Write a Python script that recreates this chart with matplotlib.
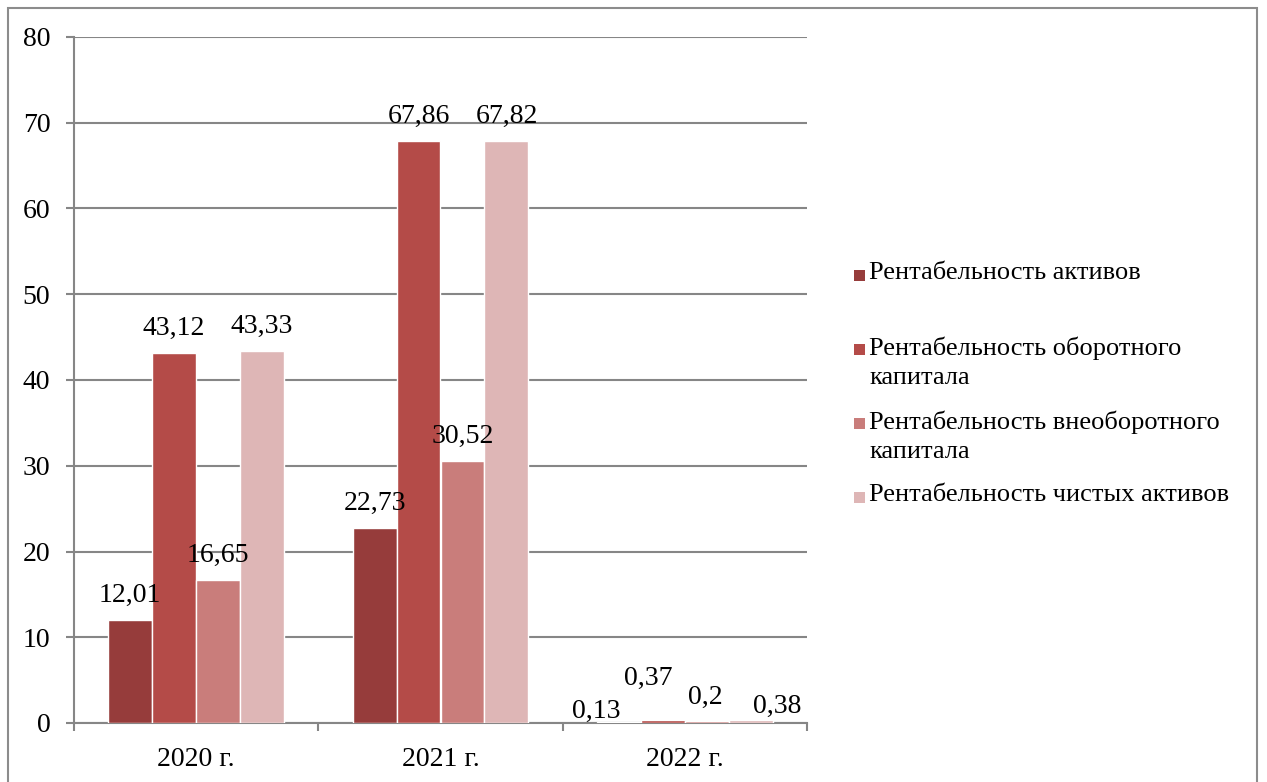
import matplotlib.pyplot as plt
import numpy as np
from matplotlib.patches import Rectangle

years = ["2020 г.", "2021 г.", "2022 г."]
series_names = [
    "Рентабельность активов",
    "Рентабельность оборотного\nкапитала",
    "Рентабельность внеоборотного\nкапитала",
    "Рентабельность чистых активов",
]
assets = [12.01, 22.73, 0.13]
working_capital = [43.12, 67.86, 0.37]
fixed_capital = [16.65, 30.52, 0.2]
net_assets = [43.33, 67.82, 0.38]
values = [assets, working_capital, fixed_capital, net_assets]

colors = ["#963C3B", "#B44B48", "#C97D7B", "#DEB6B6"]

# label nudges (pixels) for the crowded 2022 group, like in the source
nudge_2022 = [(-23, 10), (-15, 41), (-2, 24), (26, 13)]

plt.rcParams["font.family"] = ["Liberation Serif", "DejaVu Serif"]
plt.rcParams["font.size"] = 20

fig = plt.figure(figsize=(12.67, 7.82), dpi=100)
ax = fig.add_axes([74 / 1267, 1 - 723 / 782, 733 / 1267, 686 / 782])

x = np.arange(len(years))
w = 0.18
for i, (vals, c) in enumerate(zip(values, colors)):
    pos = x + (i - 1.5) * w
    ax.bar(pos, vals, w, color=c, edgecolor="white", linewidth=1.0, zorder=3)
    for j, (px, v) in enumerate(zip(pos, vals)):
        dx, dy = (0, 25) if j < 2 else nudge_2022[i]
        ax.annotate(f"{v:g}".replace(".", ","), (px, v), xytext=(dx, dy),
                    textcoords="offset pixels", ha="center", va="center", zorder=4)

ax.set_xlim(-0.5, 2.5)
ax.set_ylim(0, 80)
ax.set_yticks(range(0, 81, 10))
ax.set_xticks(x)
ax.set_xticklabels(years)
ax.set_xticks([-0.5, 0.5, 1.5, 2.5], minor=True)
ax.tick_params(axis="x", which="major", length=0, pad=17)
ax.tick_params(axis="x", which="minor", length=6, color="#868686", width=1.5)
ax.tick_params(axis="y", length=6, color="#868686", width=1.5, pad=11)
ax.grid(axis="y", color="#868686", linewidth=1.5, zorder=0)
for s in ["top", "right"]:
    ax.spines[s].set_visible(False)
for s in ["left", "bottom"]:
    ax.spines[s].set_color("#868686")
    ax.spines[s].set_linewidth(1.5)

# legend drawn by hand so the swatch sits on the first line
for k, (name, c) in enumerate(zip(series_names, colors)):
    yy = 1 - (275 + 74 * k) / 782
    fig.patches.append(Rectangle((854 / 1267, yy - 6 / 782), 11 / 1267, 11 / 782,
                                 transform=fig.transFigure, facecolor=c, edgecolor="none"))
    fig.text(869 / 1267, yy + 13 / 782, name, va="top", ha="left",
             fontsize=19, linespacing=1.45)

fig.patches.append(Rectangle((8 / 1267, -0.02), 1249 / 1267, 1.02 - 8 / 782,
                             transform=fig.transFigure, fill=False,
                             edgecolor="#8c8c8c", linewidth=1.5))

fig.savefig("out.png", dpi=100)
